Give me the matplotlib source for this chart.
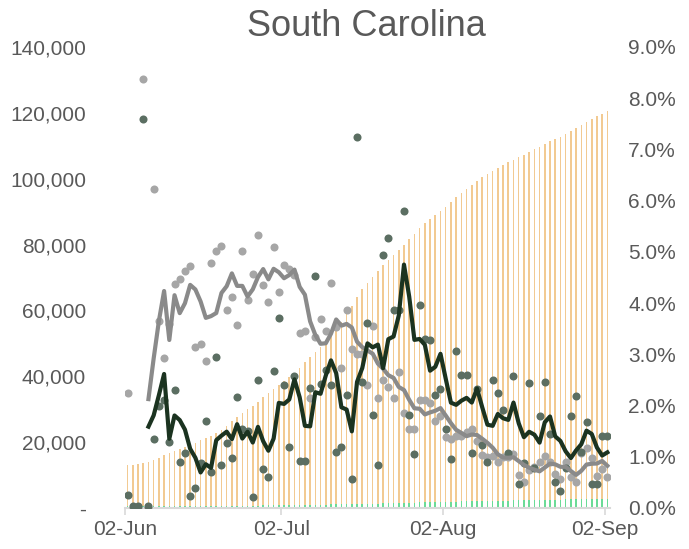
import numpy as np
import pandas as pd
import matplotlib
matplotlib.use("Agg")
import matplotlib.pyplot as plt

plt.rcParams['font.family'] = ['Liberation Sans', 'DejaVu Sans']

# one value per day, 02-Jun .. 02-Sep
# cumulative cases, thousands (left axis)
cases_k = [13.0, 13.2, 13.5, 13.8, 14.1, 14.7, 15.3, 16.0, 16.7, 17.3,
           18.0, 18.6, 19.2, 19.8, 20.5, 21.2, 22.0, 22.8, 23.7, 25.0,
           26.3, 27.5, 28.8, 30.0, 31.1, 32.3, 33.6, 34.9, 36.2, 37.4,
           38.6, 39.9, 41.1, 42.4, 44.2, 45.8, 47.4, 49.0, 50.9, 52.8,
           54.6, 56.6, 58.9, 61.4, 64.0, 66.5, 68.4, 70.2, 72.0, 73.8,
           75.3, 76.8, 78.4, 79.9, 81.6, 83.2, 84.9, 86.5, 87.7, 88.9,
           90.1, 91.3, 92.8, 94.3, 95.8, 97.0, 98.2, 99.4, 100.6, 101.5,
           102.4, 103.3, 104.2, 105.0, 105.7, 106.5, 107.2, 108.0, 108.9, 109.7,
           110.5, 111.3, 112.0, 112.8, 113.6, 114.5, 115.5, 116.4, 117.3, 118.1,
           118.9, 119.8, 120.6]
# cumulative deaths, thousands (left axis)
deaths_k = [0.49, 0.50, 0.51, 0.52, 0.53, 0.54, 0.55, 0.56, 0.57, 0.58,
            0.59, 0.60, 0.61, 0.62, 0.63, 0.64, 0.65, 0.66, 0.67, 0.68,
            0.69, 0.70, 0.71, 0.72, 0.73, 0.74, 0.76, 0.78, 0.80, 0.82,
            0.84, 0.86, 0.88, 0.90, 0.92, 0.94, 0.97, 1.00, 1.03, 1.06,
            1.09, 1.12, 1.15, 1.18, 1.21, 1.24, 1.28, 1.32, 1.36, 1.40,
            1.44, 1.48, 1.52, 1.56, 1.60, 1.64, 1.68, 1.72, 1.76, 1.80,
            1.84, 1.88, 1.92, 1.96, 2.00, 2.03, 2.06, 2.09, 2.12, 2.15,
            2.18, 2.21, 2.24, 2.27, 2.30, 2.33, 2.36, 2.39, 2.42, 2.45,
            2.48, 2.51, 2.54, 2.57, 2.60, 2.63, 2.66, 2.69, 2.72, 2.75,
            2.78, 2.81, 2.84]
# daily rates, percent (right axis)
rate_dark = [0.25, 0.03, 0.03, 7.60, 0.03, 1.35, 2.00, 2.10, 1.28, 2.30,
             0.90, 1.07, 0.23, 0.40, 0.87, 1.70, 0.71, 2.94, 0.84, 1.26,
             0.97, 2.17, 1.54, 1.50, 0.21, 2.50, 0.77, 0.61, 2.68, 3.70,
             2.40, 1.20, 2.58, 0.92, 0.92, 2.35, 4.53, 2.43, 2.69, 2.41,
             1.10, 1.20, 2.21, 0.56, 7.24, 2.45, 3.61, 1.82, 0.83, 4.94,
             5.28, 3.87, 3.87, 5.80, 1.82, 1.05, 3.96, 3.30, 3.27, 2.20,
             2.32, 1.54, 0.95, 3.06, 2.60, 2.60, 1.08, 2.33, 1.23, 0.89,
             2.49, 2.24, 1.91, 1.07, 2.58, 0.47, 0.88, 2.44, 0.79, 1.80,
             2.46, 1.44, 0.50, 0.34, 0.79, 1.80, 2.19, 1.10, 1.67, 0.47,
             0.47, 1.41, 1.41]
rate_gray = [2.25, 0.00, 0.00, 8.38, 0.00, 6.22, 3.65, 2.93, 3.60, 4.37,
             4.47, 4.62, 4.72, 3.15, 3.20, 2.87, 4.79, 5.02, 5.11, 3.86,
             4.12, 3.57, 5.02, 4.07, 4.56, 5.32, 4.35, 4.02, 5.10, 4.22,
             4.74, 4.66, 4.55, 3.41, 3.46, 2.14, 3.33, 3.69, 3.46, 4.39,
             3.53, 2.73, 3.86, 3.11, 3.00, 3.00, 2.40, 3.55, 2.14, 2.50,
             2.37, 2.14, 2.66, 1.85, 1.54, 1.54, 2.10, 2.10, 2.05, 1.70,
             1.80, 1.38, 1.35, 1.40, 1.40, 1.48, 1.54, 1.31, 1.03, 1.00,
             1.01, 0.89, 1.00, 1.00, 1.05, 0.64, 0.51, 0.74, 0.80, 0.89,
             1.01, 0.89, 0.67, 0.56, 0.89, 0.60, 0.51, 1.07, 1.17, 0.97,
             0.62, 0.76, 0.60]

date_labels = ['02-Jun', '02-Jul', '02-Aug', '02-Sep']
date_pos = [0, 30, 61, 92]
left_ticks = [0, 20000, 40000, 60000, 80000, 100000, 120000, 140000]
right_ticks = [0, 1, 2, 3, 4, 5, 6, 7, 8, 9]

txt = '#595959'
days = np.arange(len(cases_k))

fig = plt.figure(figsize=(6.89, 5.49), dpi=100)
ax = fig.add_axes([0.1814, 0.0747, 0.7039, 0.8397])

ax.bar(days, np.array(cases_k) * 1000, width=0.3, color='#F2CA92', zorder=1)
ax.bar(days, np.array(deaths_k) * 1000, width=0.3, color='#6BDB97', zorder=2)
ax.set_xlim(-0.5, len(days) - 0.5)
ax.set_ylim(0, 140000)

ax.set_yticks(left_ticks)
ax.set_yticklabels(['-' if v == 0 else f'{v:,}' for v in left_ticks])
ax.tick_params(axis='y', length=0, pad=28, labelsize=15, labelcolor=txt)
ax.set_xticks([p - 0.5 for p in date_pos])
ax.set_xticklabels(date_labels)
ax.tick_params(axis='x', length=5, width=1.2, color='#D9D9D9', pad=4,
               labelsize=15, labelcolor=txt)
for s in ['top', 'left', 'right']:
    ax.spines[s].set_visible(False)
ax.spines['bottom'].set_color('#D9D9D9')
ax.spines['bottom'].set_linewidth(1.5)

ax2 = ax.twinx()
ax2.set_ylim(0, 9)
ax2.plot(days, rate_gray, 'o', ms=5.8, color='#A6A6A6', mec='none', zorder=2)
ax2.plot(days, rate_dark, 'o', ms=5.8, color='#5B6E62', mec='none', zorder=3)
# 5-day moving average trendlines
ax2.plot(days, pd.Series(rate_gray).rolling(5).mean(), color='#8A8A8A', lw=3, zorder=4)
ax2.plot(days, pd.Series(rate_dark).rolling(5).mean(), color='#1B3320', lw=3, zorder=5)
ax2.set_yticks(right_ticks)
ax2.set_yticklabels([f'{v:.1f}%' for v in right_ticks])
ax2.tick_params(axis='y', length=0, pad=13, labelsize=15, labelcolor=txt)
for s in ax2.spines.values():
    s.set_visible(False)

fig.text(0.532, 0.951, 'South Carolina', ha='center', va='center',
         fontsize=26, color=txt)

fig.savefig('out.png', dpi=100)
